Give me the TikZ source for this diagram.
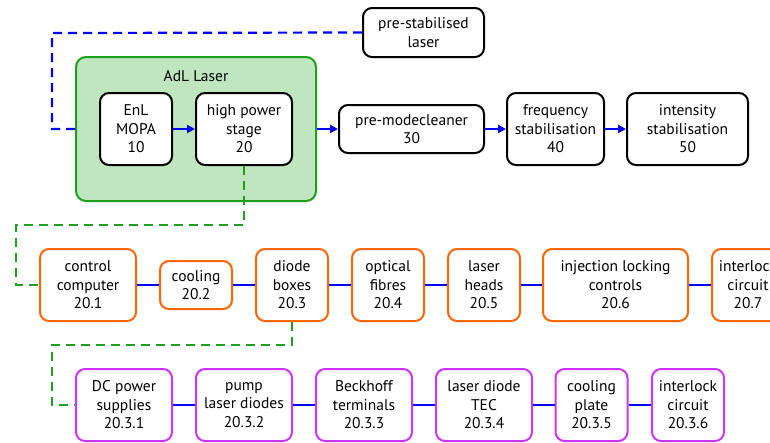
\documentclass[tikz,border=0pt]{standalone}
\usepackage{fontspec}
\setmainfont{PT Sans}
\usepackage{tikz}
\usetikzlibrary{
	positioning,
	arrows.meta
}

\definecolor{adlgreen}{RGB}{30,160,30}
\definecolor{adlfill}{RGB}{192,230,192}
\definecolor{suborange}{RGB}{255,102,0}
\definecolor{subpurple}{RGB}{204,51,255}

\tikzset{
	label text/.style={font=\fontsize{15.5}{18.5}\selectfont},
	block/.style={draw,rounded corners=9pt,line width=2pt,fill=white,align=center,
		inner sep=0pt,minimum height=72pt,label text},
	topblock/.style={block,draw=black},
	subblock/.style={block,draw=suborange},
	partblock/.style={block,draw=subpurple},
	link/.style={draw=blue,line width=2.2pt},
	flow/.style={link,-{Triangle[length=8pt,width=8pt]}},
	feed/.style={link,dash pattern=on 9pt off 6pt},
	tree/.style={draw=adlgreen,line width=2.2pt,dash pattern=on 9pt off 6pt}
}

\begin{document}
\begin{tikzpicture}[x=1pt,y=-1pt]
	\useasboundingbox (0,0) rectangle (770,442);

	% laser chain
	\node [draw=adlgreen,fill=adlfill,line width=2pt,rounded corners=10pt,
		minimum width=240pt,minimum height=144pt]         (adl)  at (196,129)   {};
	\node [label text]                                  (adlname) at (196,76) {AdL Laser};
	\node [topblock,minimum width=72pt]                 (mopa) at (136,129)   {EnL\\MOPA\\10};
	\node [topblock,minimum width=96pt]                 (hps)  at (244,129)   {high power\\stage\\20};
	\node [topblock,minimum width=145pt,minimum height=48pt] (pmc) at (411.5,129) {pre-modecleaner\\30};
	\node [topblock,minimum width=97pt]                 (fss)  at (555.5,129) {frequency\\stabilisation\\40};
	\node [topblock,minimum width=121pt]                (iss)  at (687.5,129) {intensity\\stabilisation\\50};
	\node [topblock,minimum width=121pt,minimum height=49pt] (psl) at (423.5,32.5) {pre-stabilised\\laser};

	% high power stage
	\node [subblock,minimum width=96pt]                 (ctrl)  at (88,285)    {control\\computer\\20.1};
	\node [subblock,minimum width=72pt,minimum height=48pt] (cool) at (196,285) {cooling\\20.2};
	\node [subblock,minimum width=72pt]                 (dbox)  at (292,285)   {diode\\boxes\\20.3};
	\node [subblock,minimum width=72pt]                 (fibre) at (388,285)   {optical\\fibres\\20.4};
	\node [subblock,minimum width=72pt]                 (head)  at (484,285)   {laser\\heads\\20.5};
	\node [subblock,minimum width=145pt]                (inj)   at (615.5,285) {injection locking\\controls\\20.6};
	\node [subblock,minimum width=72pt]                 (intl)  at (748,285)   {interlock\\circuit\\20.7};

	% diode boxes
	\node [partblock,minimum width=96pt]                (dcps)  at (124,405)   {DC power\\supplies\\20.3.1};
	\node [partblock,minimum width=96pt]                (pump)  at (244,405)   {pump\\laser diodes\\20.3.2};
	\node [partblock,minimum width=96pt]                (beck)  at (364,405)   {Beckhoff\\terminals\\20.3.3};
	\node [partblock,minimum width=96pt]                (tec)   at (484,405)   {laser diode\\TEC\\20.3.4};
	\node [partblock,minimum width=72pt]                (plate) at (591.5,405) {cooling\\plate\\20.3.5};
	\node [partblock,minimum width=72pt]                (dintl) at (688,405)   {interlock\\circuit\\20.3.6};

	\coordinate (pslbend)  at (52,33);
	\coordinate (hpsbend)  at (16,225);
	\coordinate (dboxbend) at (52,345);

	\draw [feed] (psl.west) -- (pslbend) |- (adl.west);
	\draw [flow] (mopa) -- (hps);
	\draw [flow] (adl.east) -- (pmc.west);
	\draw [flow] (pmc) -- (fss);
	\draw [flow] (fss) -- (iss);

	\draw [tree] (hps.south) |- (hpsbend) |- (ctrl.west);
	\draw [tree] (dbox.south) |- (dboxbend) |- (dcps.west);

	\draw [link] (ctrl) -- (cool) -- (dbox) -- (fibre) -- (head) -- (inj) -- (intl);
	\draw [link] (dcps) -- (pump) -- (beck) -- (tec) -- (plate) -- (dintl);
\end{tikzpicture}
\end{document}
